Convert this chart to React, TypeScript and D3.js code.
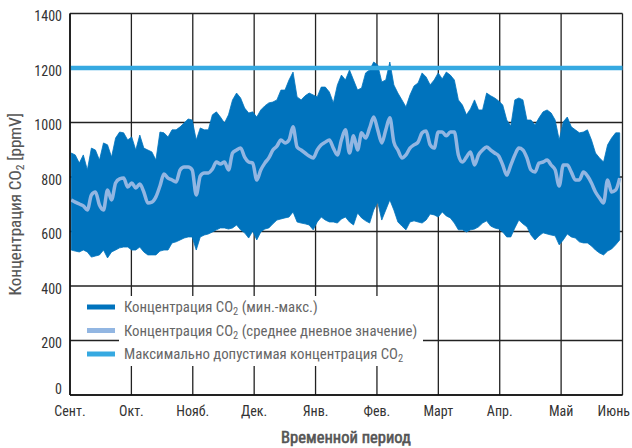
import React from "react";
import * as d3 from "d3";

const months = ["Сент.", "Окт.", "Нояб.", "Дек.", "Янв.", "Фев.", "Март", "Апр.", "Май", "Июнь"];
const yTicks = [0, 200, 400, 600, 800, 1000, 1200, 1400];
const limitValue = 1200;

// CO2 readings sampled every 2 days from September to June (ppmV)
const maxVals = [888, 881, 851, 881, 826, 906, 899, 862, 925, 918, 873, 943, 965, 962, 936, 947, 899, 954, 906, 899,
  892, 862, 965, 962, 947, 973, 973, 984, 998, 1013, 1009, 936, 980, 973, 973, 1028, 1039, 1020, 998, 1028,
  1083, 1108, 1090, 1053, 1035, 1039, 1020, 1046, 1061, 1072, 1075, 1083, 1119, 1119, 1156, 1185, 1094, 1083, 1098, 1108,
  1101, 1094, 1130, 1130, 1112, 1072, 1138, 1174, 1156, 1193, 1156, 1119, 1127, 1182, 1193, 1222, 1211, 1149, 1156, 1222,
  1138, 1108, 1083, 1057, 1101, 1134, 1145, 1182, 1167, 1138, 1156, 1182, 1160, 1185, 1174, 1156, 1083, 1064, 1028, 1050,
  1083, 1046, 1046, 1108, 1098, 1090, 1079, 1064, 1009, 987, 1083, 1090, 1083, 1009, 1009, 991, 1017, 1039, 1046, 1035,
  1009, 936, 1002, 1020, 984, 973, 962, 965, 973, 936, 888, 870, 855, 918, 943, 962, 962];
const minVals = [532, 528, 525, 532, 525, 506, 510, 514, 532, 503, 525, 532, 540, 543, 543, 532, 532, 543, 525, 514,
  514, 514, 528, 532, 532, 558, 562, 569, 576, 580, 580, 532, 580, 587, 591, 598, 606, 613, 613, 609,
  613, 624, 606, 595, 576, 602, 569, 598, 609, 613, 628, 642, 646, 650, 653, 672, 635, 631, 628, 624,
  606, 635, 653, 642, 635, 635, 631, 646, 653, 635, 624, 668, 650, 639, 631, 679, 708, 642, 679, 716,
  679, 635, 620, 606, 635, 639, 635, 631, 642, 664, 661, 653, 672, 657, 650, 631, 606, 606, 598, 606,
  609, 617, 631, 639, 620, 613, 609, 598, 580, 580, 613, 642, 628, 617, 587, 569, 584, 595, 591, 587,
  584, 551, 569, 591, 580, 576, 562, 558, 558, 547, 532, 521, 514, 528, 536, 551, 569];
const meanVals = [716, 708, 701, 694, 679, 734, 745, 697, 679, 752, 716, 778, 793, 796, 763, 778, 760, 774, 745, 705,
  708, 727, 767, 811, 796, 789, 782, 826, 837, 837, 826, 734, 804, 815, 815, 829, 855, 848, 855, 826,
  888, 899, 906, 873, 855, 851, 789, 826, 851, 870, 899, 913, 936, 925, 936, 984, 910, 899, 888, 877,
  870, 899, 918, 928, 936, 906, 881, 936, 973, 888, 951, 899, 962, 943, 980, 1020, 973, 925, 973, 1017,
  928, 899, 870, 881, 906, 918, 928, 962, 969, 918, 906, 965, 965, 951, 965, 965, 881, 855, 873, 892,
  844, 881, 899, 910, 899, 888, 877, 844, 807, 844, 881, 906, 899, 870, 826, 818, 851, 855, 862, 844,
  826, 767, 844, 844, 818, 789, 789, 818, 804, 778, 745, 723, 705, 789, 745, 752, 796];

const legendItems = [
  { pre: "Концентрация CO", post: " (мин.-макс.)", color: "#0073BD" },
  { pre: "Концентрация CO", post: " (среднее дневное значение)", color: "#92B6E2" },
  { pre: "Максимально допустимая концентрация CO", post: "", color: "#36A9E1" },
];

const W = 632, H = 448;
const left = 70, right = 622.5, top = 13.5, bottom = 395;
const FONT = "'Liberation Sans Narrow', 'Roboto Condensed', 'DejaVu Sans Condensed', sans-serif";

export default function App() {
  const x = d3.scaleLinear().domain([0, months.length - 1]).range([left, right]);
  const y = d3.scaleLinear().domain([0, 1400]).range([bottom, top]);
  const n = maxVals.length;
  const pos = (i: number) => x((i * (months.length - 1)) / n + 0.02);
  const idx = d3.range(n);
  const area = d3.area<number>().x((i) => pos(i)).y0((i) => y(minVals[i])).y1((i) => y(maxVals[i]));
  const line = d3.line<number>().x((i) => pos(i)).y((i) => y(meanVals[i])).curve(d3.curveMonotoneX);

  return (
    <div style={{ position: "fixed", left: 0, top: 0 }}>
      <svg width={W} height={H} style={{ display: "block", background: "#fff" }} fontFamily={FONT}>
        {/* grid */}
        {yTicks.map((t) => (
          <line key={"h" + t} x1={left} x2={right} y1={y(t)} y2={y(t)} stroke="#222" strokeWidth={1.3} />
        ))}
        {months.map((m, i) => (
          <line key={"v" + i} x1={x(i)} x2={x(i)} y1={top} y2={bottom} stroke="#222" strokeWidth={1.3} />
        ))}
        {/* data */}
        <path d={area(idx) || ""} fill="#0073BD" stroke="#0073BD" strokeWidth={0.8} />
        <path d={line(idx) || ""} fill="none" stroke="#92B6E2" strokeWidth={3.5} strokeLinejoin="round" />
        <line x1={left} x2={right} y1={y(limitValue)} y2={y(limitValue)} stroke="#36A9E1" strokeWidth={4.5} />
        {/* axes frame */}
        <line x1={left} x2={left} y1={top} y2={bottom} stroke="#111" strokeWidth={1.6} />
        <line x1={left} x2={right} y1={bottom} y2={bottom} stroke="#111" strokeWidth={1.6} />
        {/* y tick labels */}
        {yTicks.map((t) => (
          <text key={"yl" + t} x={left - 8} y={y(t)} dy={t === 0 ? "-0.05em" : "0.55em"} textAnchor="end" fontSize={14} fill="#333">
            {t}
          </text>
        ))}
        {/* x tick labels */}
        {months.map((m, i) => (
          <text key={"xl" + i} x={i === months.length - 1 ? W - 2 : x(i)} y={416} textAnchor={i === months.length - 1 ? "end" : "middle"} fontSize={14} fill="#333">
            {m}
          </text>
        ))}
        {/* legend */}
        <rect x={119} y={296} width={304} height={70} fill="#fff" />
        {legendItems.map((it, k) => {
          const ly = 307 + k * 23.5;
          return (
            <g key={"lg" + k}>
              <line x1={87} x2={115} y1={ly} y2={ly} stroke={it.color} strokeWidth={5} />
              <text x={124} y={ly + 5} fontSize={14.8} fill="#666">
                {it.pre}
                <tspan fontSize={10.5} dy={3}>2</tspan>
                <tspan dy={-3}>{it.post}</tspan>
              </text>
            </g>
          );
        })}
        {/* axis titles */}
        <text x={346} y={443} textAnchor="middle" fontSize={16.5} fill="#555" stroke="#555" strokeWidth={0.6}>
          Временной период
        </text>
        <text transform={`translate(21, ${(top + bottom) / 2}) rotate(-90)`} textAnchor="middle" fontSize={17} fill="#555" stroke="#555" strokeWidth={0.1}>
          Концентрация CO<tspan fontSize={11.5} dy={3}>2</tspan>
          <tspan dy={-3}> [ppmV]</tspan>
        </text>
      </svg>
    </div>
  );
}
